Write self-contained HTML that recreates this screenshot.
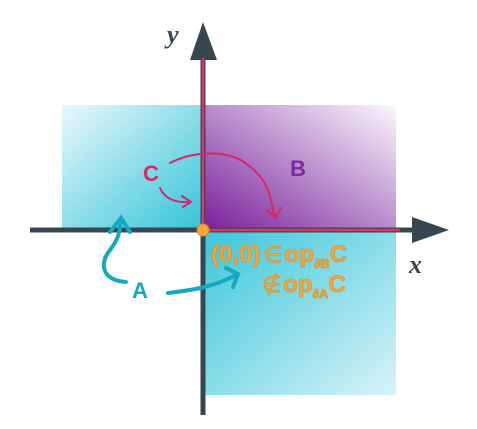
<!DOCTYPE html>
<html><head><meta charset="utf-8"><style>
html,body{margin:0;padding:0;background:#fff;}
svg{display:block;}
</style></head><body>
<svg width="477" height="429" viewBox="0 0 477 429" xmlns="http://www.w3.org/2000/svg">
<defs>
<linearGradient id="gTL" x1="0" y1="0" x2="1" y2="1"><stop offset="0" stop-color="#eaf8fb"/><stop offset="1" stop-color="#33c4d8"/></linearGradient>
<linearGradient id="gB" x1="1" y1="0" x2="0" y2="1"><stop offset="0" stop-color="#fbf8fc"/><stop offset="0.5" stop-color="#b88ccc"/><stop offset="1" stop-color="#7a1e9a"/></linearGradient>
<linearGradient id="gBR" x1="0" y1="0" x2="1" y2="1"><stop offset="0" stop-color="#3ac6da"/><stop offset="1" stop-color="#d8f3f8"/></linearGradient>
</defs>
<rect x="62" y="105" width="141" height="125" fill="url(#gTL)"/>
<rect x="203" y="105" width="193" height="125" fill="url(#gB)"/>
<rect x="203" y="230" width="193" height="165" fill="url(#gBR)"/>
<line x1="30" y1="230" x2="415" y2="230" stroke="#37474f" stroke-width="5"/>
<polygon points="412,217 449,230 412,243" fill="#37474f"/>
<line x1="203" y1="415" x2="203" y2="55" stroke="#37474f" stroke-width="5"/>
<polygon points="190,60 203,22 217,60" fill="#37474f"/>
<line x1="203" y1="58" x2="203" y2="230" stroke="#e0336a" stroke-width="2.5"/>
<line x1="203" y1="230" x2="400" y2="230" stroke="#e0336a" stroke-width="2.5"/>
<circle cx="203" cy="230" r="6" fill="#f6a53b" stroke="#e08a20" stroke-width="1"/>
<text x="167" y="43" font-family="Liberation Serif, serif" font-style="italic" font-weight="bold" font-size="26" fill="#37474f">y</text>
<text x="409" y="273" font-family="Liberation Serif, serif" font-style="italic" font-weight="bold" font-size="26" fill="#37474f">x</text>
<text x="143" y="181" font-family="Liberation Sans, sans-serif" font-weight="bold" font-size="22" fill="#d62866">C</text>
<text x="290" y="176" font-family="Liberation Sans, sans-serif" font-weight="bold" font-size="22" fill="#7b2aa0">B</text>
<text x="132" y="298" font-family="Liberation Sans, sans-serif" font-weight="bold" font-size="22" fill="#12a9c1">A</text>
<g fill="none" stroke="#d62866" stroke-width="2" stroke-linecap="round">
<path d="M170,163 C195,150 230,150 248,165 C265,178 270,190 274,215"/>
<path d="M267,210 L275,218 L281,208"/>
<path d="M160,188 C165,200 178,203 190,202"/>
<path d="M182,196 L191,202 L183,207"/>
</g>
<g fill="none" stroke="#12a9c1" stroke-width="4" stroke-linecap="round">
<path d="M126,282 C100,280 100,262 110,250 C118,240 121,230 120,220"/>
<path d="M110,232 L121,218 L130,232"/>
<path d="M168,293 C195,290 215,286 236,275"/>
<path d="M226,268 L238,274 L233,287"/>
</g>
<text x="211" y="262" font-family="Liberation Sans, sans-serif" font-weight="bold" font-size="24" fill="#f6a53b" stroke="#d98a20" stroke-width="0.6">(0,0)<tspan font-family="DejaVu Sans, sans-serif" font-weight="normal" font-size="22" dx="3">∈</tspan><tspan dx="2">op</tspan><tspan font-size="13" dy="6">∂B</tspan><tspan dy="-6">C</tspan></text>
<text x="262" y="292" font-family="Liberation Sans, sans-serif" font-weight="bold" font-size="24" fill="#f6a53b" stroke="#d98a20" stroke-width="0.6"><tspan font-family="DejaVu Sans, sans-serif" font-weight="normal" font-size="22">∉</tspan><tspan dx="2">op</tspan><tspan font-size="13" dy="6">∂A</tspan><tspan dy="-6">C</tspan></text>
</svg>
</body></html>
